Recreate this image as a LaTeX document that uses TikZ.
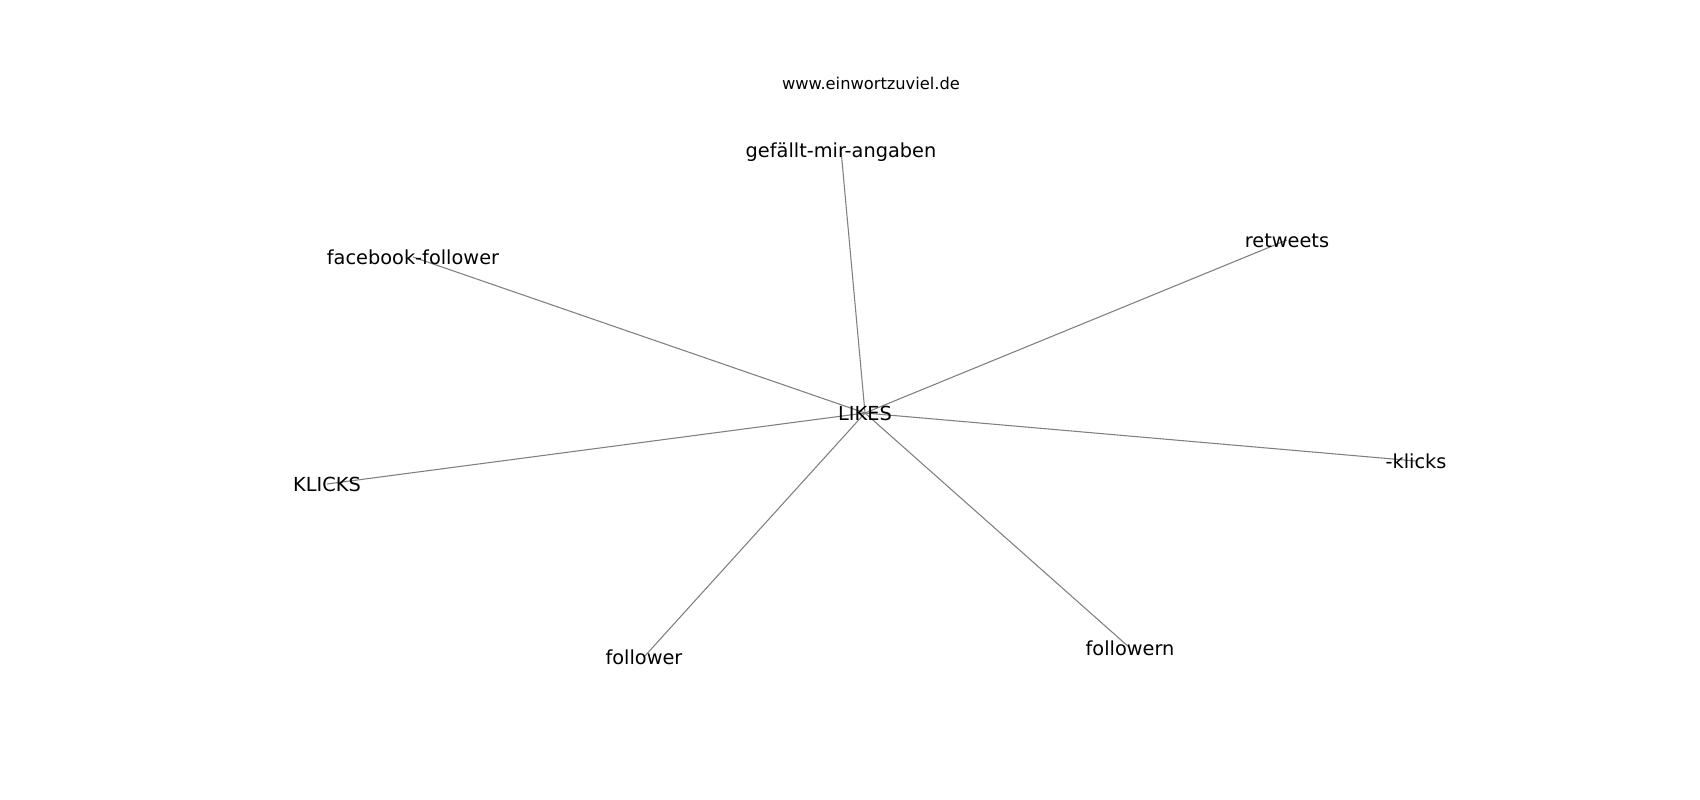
\documentclass[tikz,border=0pt]{standalone}
\usepackage{fontspec}
\setmainfont{DejaVu Sans}
\usetikzlibrary{backgrounds}
\tikzset{
  word/.style={inner sep=0pt, text height=1.36em, text depth=0.24em, font=\fontsize{14.5pt}{16pt}\selectfont, text=black},
  titletext/.style={inner sep=0pt, text height=1.3em, text depth=0.24em, font=\fontsize{12.2pt}{14pt}\selectfont, text=black},
  edge/.style={draw=black!50, line width=0.8pt}
}
\begin{document}
\begin{tikzpicture}[x=0.75pt, y=-0.75pt]
\useasboundingbox (0,0) rectangle (1700,800);
\node[titletext] (title) at (871,82) {www.einwortzuviel.de};
\node[word] (likes) at (865,413) {LIKES};
\node[word] (gefaellt) at (841,150) {gefällt-mir-angaben};
\node[word] (facebook) at (413,257) {facebook-follower};
\node[word] (retweets) at (1287,240) {retweets};
\node[word] (klicks) at (1416,461) {-klicks};
\node[word] (KLICKS) at (327,484) {KLICKS};
\node[word] (follower) at (644,657) {follower};
\node[word] (followern) at (1130,648) {followern};
\begin{pgfonlayer}{background}
\fill[white] (0,0) rectangle (1700,800);
\foreach \n in {gefaellt,facebook,retweets,klicks,KLICKS,follower,followern}
  \draw[edge] (likes.center) -- (\n.center);
\end{pgfonlayer}
\end{tikzpicture}
\end{document}
